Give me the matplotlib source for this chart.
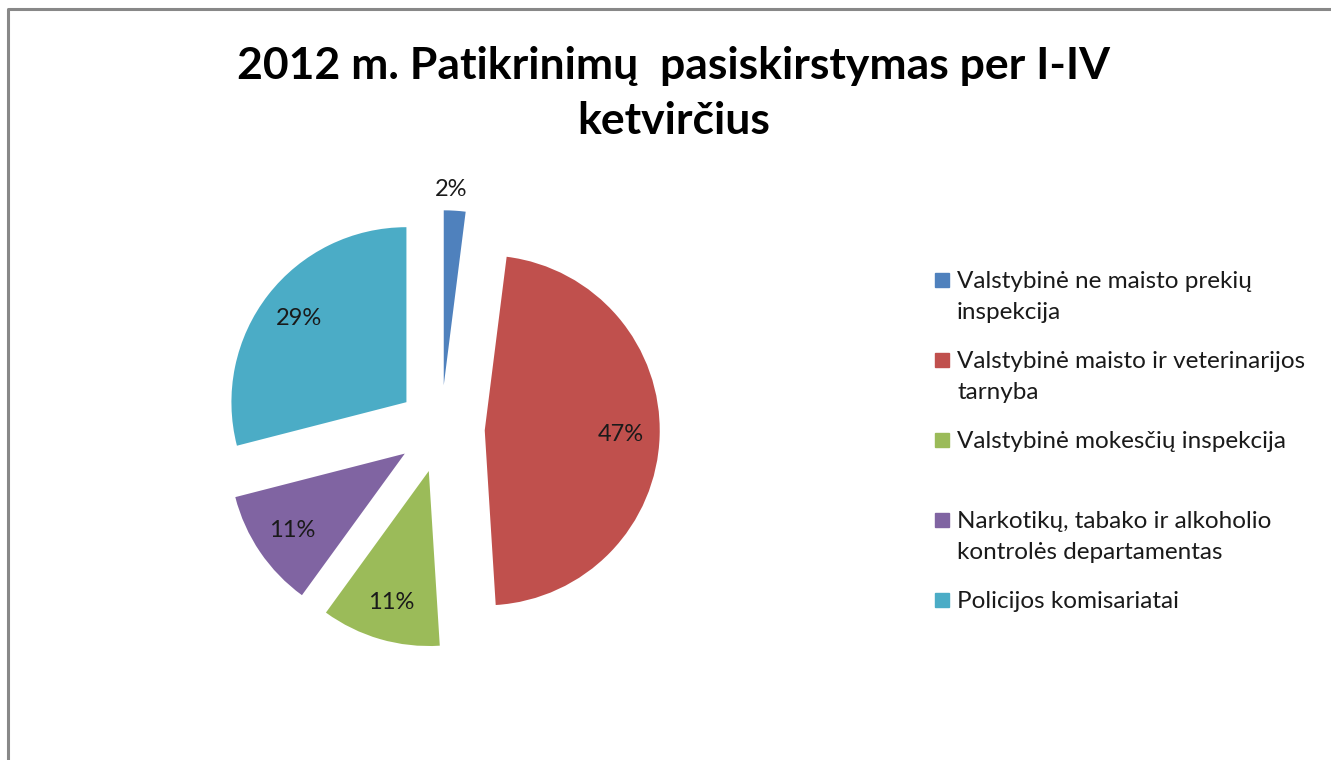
import numpy as np
import matplotlib
matplotlib.use("Agg")
import matplotlib.pyplot as plt
from matplotlib.patches import Rectangle
from matplotlib.lines import Line2D

plt.rcParams["font.family"] = ["Lato", "DejaVu Sans"]

labels = [
    "Valstybinė ne maisto prekių\ninspekcija",
    "Valstybinė maisto ir veterinarijos\ntarnyba",
    "Valstybinė mokesčių inspekcija",
    "Narkotikų, tabako ir alkoholio\nkontrolės departamentas",
    "Policijos komisariatai",
]
shares = [2, 47, 11, 11, 29]
colors = ["#4F81BD", "#C0504D", "#9BBB59", "#8064A2", "#4BACC6"]

W, H = 1331, 760
fig = plt.figure(figsize=(W / 100, H / 100), dpi=100)

# pie area: 175 px per unit, centre at (441, 429) px from top-left
scale = 175.0
cx, cy = 441.0, 429.0
ax = fig.add_axes([0, 0, 2 * cx / W, 1])
wedges, texts, autotexts = ax.pie(
    shares, colors=colors, startangle=90, counterclock=False,
    explode=[0.25] * len(shares), autopct="%1.0f%%", pctdistance=0.78,
    textprops={"fontsize": 17, "color": "#1a1a1a"},
)
ax.set_aspect("auto")
ax.set_xlim(-cx / scale, cx / scale)
ax.set_ylim(-(H - cy) / scale, cy / scale)
ax.axis("off")

# smallest slice gets its label outside
w0 = wedges[0]
th = np.deg2rad((w0.theta1 + w0.theta2) / 2)
autotexts[0].set_position((w0.center[0] + 1.12 * np.cos(th) - 0.03,
                           w0.center[1] + 1.12 * np.sin(th)))

fig.text(0.506, 1 - 66 / H, "2012 m. Patikrinimų  pasiskirstymas per I-IV",
         ha="center", va="center", fontsize=32, fontweight="bold")
fig.text(0.506, 1 - 121 / H, "ketvirčius",
         ha="center", va="center", fontsize=32, fontweight="bold")

# legend
for i, (lab, col) in enumerate(zip(labels, colors)):
    y = 280 + 80 * i
    fig.patches.append(Rectangle((935 / W, 1 - (y + 7) / H), 14 / W, 14 / H,
                                 transform=fig.transFigure, color=col))
    fig.text(957 / W, 1 - (y - 9) / H, lab, ha="left", va="top",
             fontsize=17.5, color="#1a1a1a", linespacing=1.6)

# outer frame (only top and left edges visible)
fig.add_artist(Line2D([8 / W, 8 / W, 1.0], [0.0, 1 - 9 / H, 1 - 9 / H],
                      transform=fig.transFigure, color="#888888",
                      linewidth=2.2))

fig.savefig("out.png", dpi=100)
